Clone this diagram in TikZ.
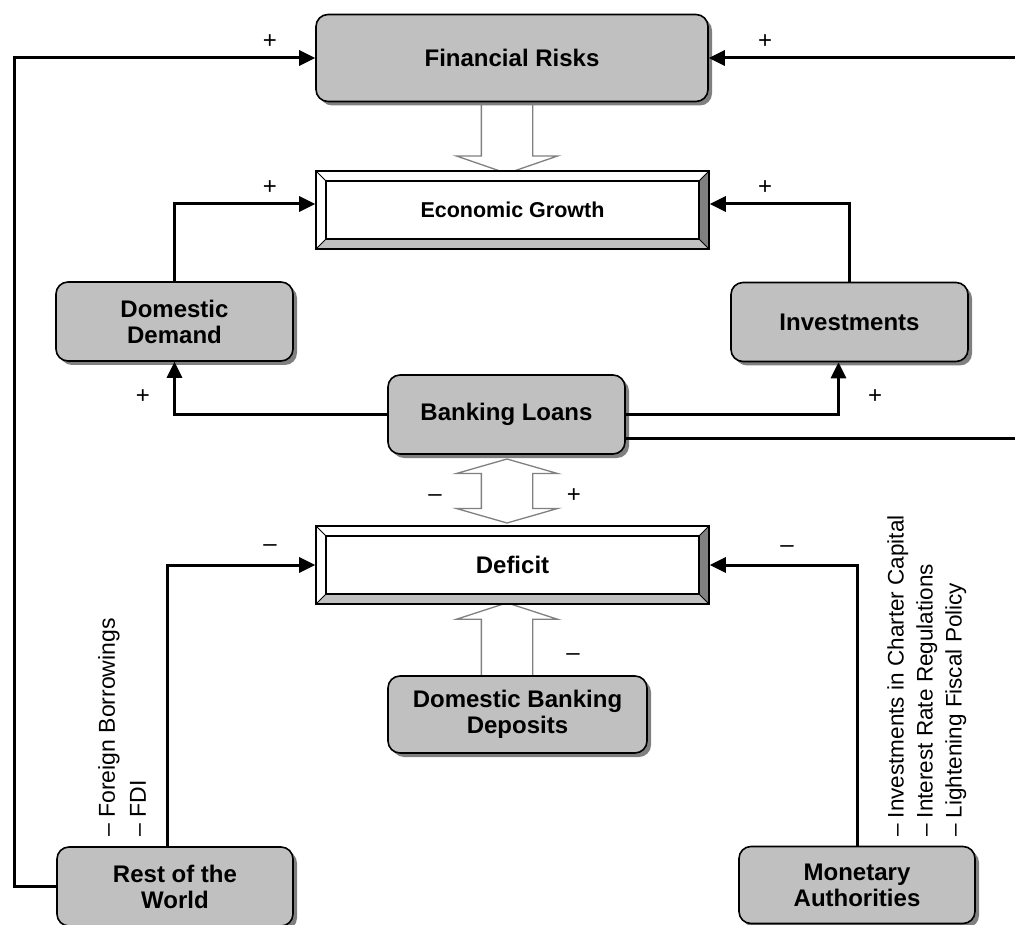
\documentclass[tikz,border=0pt]{standalone}
\usepackage{fontspec}
\setmainfont{Liberation Sans}
\usepackage{tikz}
\usetikzlibrary{arrows.meta,shapes.arrows,shadows}
\definecolor{boxgray}{HTML}{C0C0C0}
\definecolor{shadegray}{HTML}{808080}
\pgfdeclarelayer{background}
\pgfsetlayers{background,main}

\begin{document}
\begin{tikzpicture}[x=1pt,y=-1pt,
  roundbox/.style={draw, line width=1.6pt, fill=boxgray, rounded corners=12pt,
    minimum width=237pt, minimum height=79pt, align=center,
    font=\fontsize{24}{26}\selectfont\bfseries,
    drop shadow={shadow xshift=4pt, shadow yshift=-4pt, fill=shadegray, opacity=1}},
  bevelbox/.style={draw, line width=1.6pt, fill=white, minimum width=393pt, minimum height=78pt,
    font=\fontsize{24}{26}\selectfont\bfseries,
    path picture={
      \coordinate (bvSW) at (path picture bounding box.south west);
      \coordinate (bvSE) at (path picture bounding box.south east);
      \coordinate (bvNW) at (path picture bounding box.north west);
      \coordinate (bvNE) at (path picture bounding box.north east);
      \fill[shadegray] (bvNE) -- (bvSE) -- ([shift={(-10pt,10pt)}]bvSE) -- ([shift={(-10pt,-10pt)}]bvNE) -- cycle;
      \fill[boxgray] (bvSW) -- (bvSE) -- ([shift={(-10pt,10pt)}]bvSE) -- ([shift={(10pt,10pt)}]bvSW) -- cycle;
      \draw[line width=1.6pt] ([shift={(10pt,10pt)}]bvSW) rectangle ([shift={(-10pt,-10pt)}]bvNE);
      \draw[line width=0.8pt] (bvSW) -- ++(10pt,10pt) (bvSE) -- ++(-10pt,10pt)
        (bvNW) -- ++(10pt,-10pt) (bvNE) -- ++(-10pt,-10pt);
    }},
  link/.style={line width=3pt, -{Triangle[length=16pt,width=15pt]}},
  sign/.style={font=\fontsize{24}{24}\selectfont, inner sep=0pt},
  hollow/.style={draw=shadegray, line width=1.3pt, fill=white, inner xsep=0pt, inner ysep=25pt},
  sidelist/.style={rotate=90, anchor=north west, align=left, inner sep=0pt}
]
\useasboundingbox (0,0) rectangle (1015,925);

% boxes
\node[roundbox, minimum width=392pt, minimum height=87pt] (fin) at (512,58) {Financial Risks};
\node[bevelbox, font=\fontsize{21.5}{24}\selectfont\bfseries] (eg) at (512.5,210) {Economic Growth};
\node[roundbox] (dd) at (174.5,321.5) {Domestic\\Demand};
\node[roundbox] (inv) at (849.5,322) {Investments};
\node[roundbox] (bl) at (506.5,414.5) {Banking Loans};
\node[bevelbox] (def) at (512.5,565) {Deficit};
\node[roundbox, minimum width=259pt, minimum height=77pt] (dbd) at (517.5,714.5) {Domestic Banking\\Deposits};
\node[roundbox, minimum width=236pt] (row) at (175,886.5) {Rest of the\\World};
\node[roundbox, minimum width=236pt, minimum height=77pt] (ma) at (857,885) {Monetary\\Authorities};

% hollow arrows, behind the boxes
\begin{pgfonlayer}{background}
\node[hollow, single arrow, single arrow head extend=25pt, single arrow tip angle=142,
  rotate=-90, minimum height=71pt] (finarr) at (507,133.5) {};
\node[hollow, double arrow, double arrow head extend=25pt, double arrow tip angle=148,
  rotate=90, minimum height=64pt] (blarr) at (507,491) {};
\node[hollow, single arrow, single arrow head extend=25pt, single arrow tip angle=144,
  rotate=90, minimum height=73pt] (dbdarr) at (507,643.5) {};
\end{pgfonlayer}

% free ends at the right border
\coordinate (edgeA) at (1015,58);
\coordinate (edgeB) at (1015,438);

% connectors
\draw[link] (row.west) -- ++(-42,0) |- (fin.west);
\draw[link] (edgeA) -- (fin.east);
\draw[link] (dd.north) |- ([yshift=6pt]eg.west);
\draw[link] (inv.north) |- ([yshift=6pt]eg.east);
\draw[link] (bl.west) -| (dd.south);
\draw[link] (bl.east) -| ([xshift=-11pt]inv.south);
\draw[line width=3pt] ([yshift=-23.5pt]bl.east) -- (edgeB);
\draw[link] ([xshift=-8pt]row.north) |- (def.west);
\draw[link] (ma.north) |- (def.east);

% signs
\node[sign] (s1) at (270,42) {+};
\node[sign] (s2) at (765,42) {+};
\node[sign] (s3) at (270,188) {+};
\node[sign] (s4) at (765,188) {+};
\node[sign] (s5) at (143,397) {+};
\node[sign] (s6) at (875,397) {+};
\node[sign] (s7) at (435,498) {--};
\node[sign] (s8) at (574,496) {+};
\node[sign] (s9) at (270,548) {--};
\node[sign] (s10) at (787,549) {--};
\node[sign] (s11) at (573,657) {--};

% rotated lists
\node[sidelist, font=\fontsize{23}{31}\selectfont] (rowlist) at (98,837)
  {-- Foreign Borrowings\\-- FDI};
\node[sidelist, font=\fontsize{22.5}{29}\selectfont] (malist) at (887,837)
  {-- Investments in Charter Capital\\-- Interest Rate Regulations\\-- Lightening Fiscal Policy};
\end{tikzpicture}
\end{document}
